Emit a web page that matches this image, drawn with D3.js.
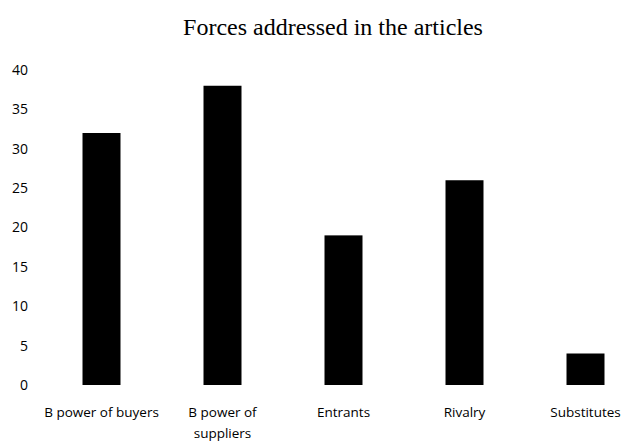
<!DOCTYPE html>
<html>
<head>
<meta charset="utf-8">
<script src="https://cdn.jsdelivr.net/npm/d3@7"></script>
<style>
  html, body { margin: 0; padding: 0; background: #fff; }
  svg { display: block; }
  .tick text { font-family: "Open Sans", sans-serif; fill: #000; }
</style>
</head>
<body>
<svg id="chart" width="622" height="444"></svg>
<script>
// Forces addressed in the articles
const categories = [["B power of buyers"], ["B power of", "suppliers"], ["Entrants"], ["Rivalry"], ["Substitutes"]];
const counts = [32, 38, 19, 26, 4];
const yTicks = [0, 5, 10, 15, 20, 25, 30, 35, 40];

const svg = d3.select("#chart");
const keys = categories.map(c => c.join(" "));

const x = d3.scaleBand()
  .domain(keys)
  .range([41, 646])
  .paddingInner(0.686)
  .paddingOuter(0.343);

const y = d3.scaleLinear()
  .domain([0, 40])
  .range([385, 70]);

// Title
svg.append("text")
  .attr("x", 333)
  .attr("y", 35)
  .attr("text-anchor", "middle")
  .attr("font-family", "'Liberation Serif', 'Times New Roman', serif")
  .attr("font-size", 24)
  .attr("fill", "#000")
  .text("Forces addressed in the articles");

// Y axis: labels only
const yAxis = svg.append("g")
  .attr("transform", "translate(28,0)")
  .call(d3.axisLeft(y).tickValues(yTicks).tickSize(0).tickPadding(0));
yAxis.select(".domain").remove();
yAxis.selectAll(".tick text").attr("font-size", 14);

// Bars
svg.append("g")
  .selectAll("rect")
  .data(counts)
  .join("rect")
  .attr("x", (d, i) => x(keys[i]))
  .attr("y", d => y(d))
  .attr("width", x.bandwidth())
  .attr("height", d => y(0) - y(d))
  .attr("fill", "#000");

// X axis: category labels, wrapped onto lines
const xAxis = svg.append("g")
  .attr("transform", "translate(0,400)")
  .call(d3.axisBottom(x).tickSize(0).tickPadding(0));
xAxis.select(".domain").remove();
xAxis.selectAll(".tick text")
  .attr("font-size", 13.5)
  .each(function(d, i) {
    const t = d3.select(this);
    t.text(null).attr("y", 0).attr("dy", null);
    categories[i].forEach((line, j) => {
      t.append("tspan")
        .attr("x", 0)
        .attr("y", 17 + j * 21)
        .text(line);
    });
  });
</script>
</body>
</html>
